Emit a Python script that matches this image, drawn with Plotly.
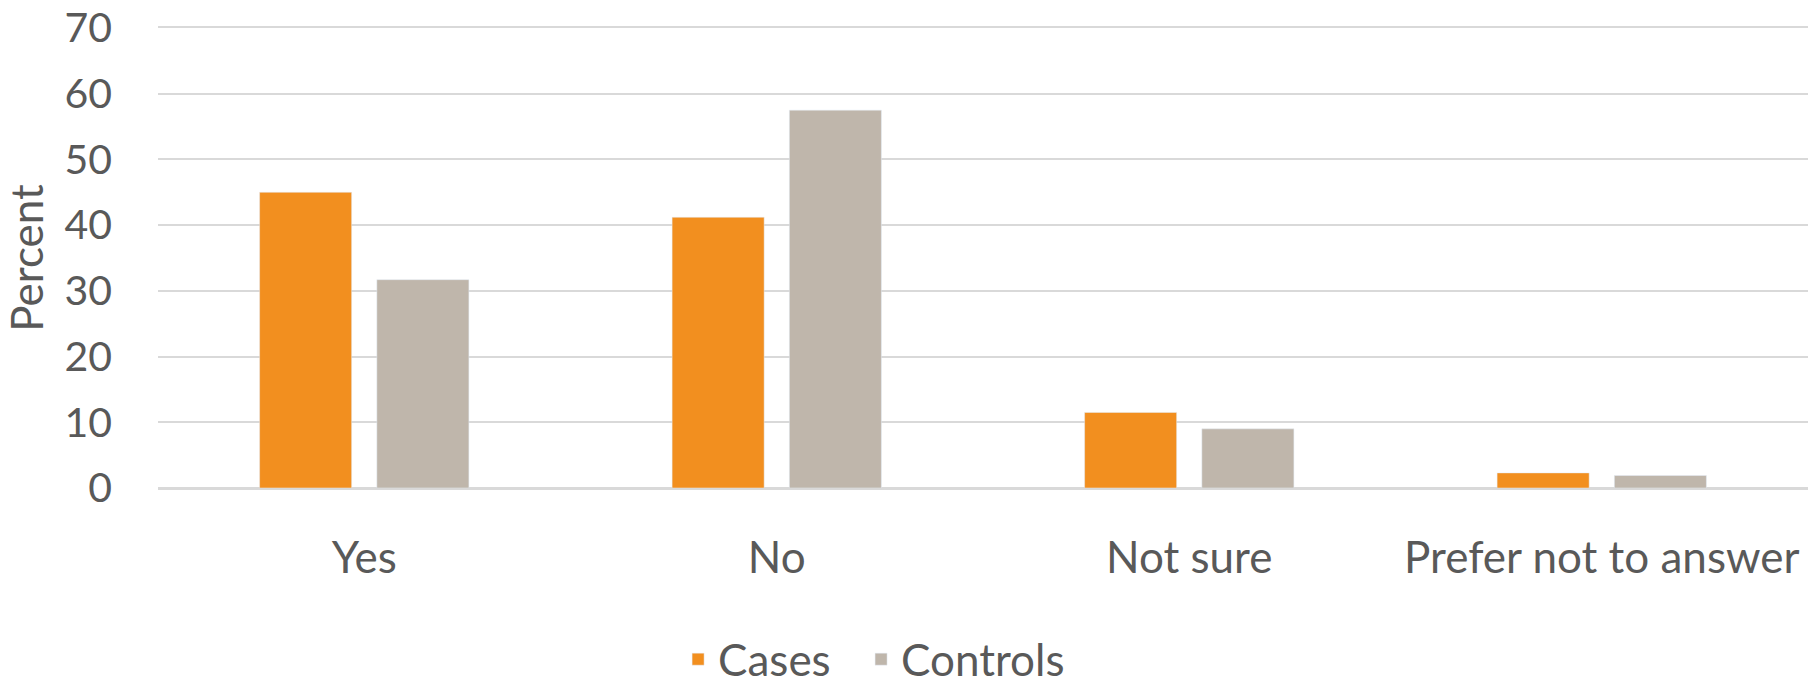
import plotly.graph_objects as go

categories = ["Yes", "No", "Not sure", "Prefer not to answer"]
cases = [45.0, 41.2, 11.5, 2.3]
controls = [31.7, 57.5, 9.0, 1.9]
y_ticks = [0, 10, 20, 30, 40, 50, 60, 70]

ORANGE = "#F28F1F"
GREY = "#BFB6AB"
TEXT = "#595959"
GRID = "#D9D9D9"
FONT = "Lato"

fig = go.Figure()
fig.add_trace(go.Bar(name="Cases", x=categories, y=cases, marker_color=ORANGE, legend="legend"))
fig.add_trace(go.Bar(name="Controls", x=categories, y=controls, marker_color=GREY, legend="legend2"))

legend_common = dict(orientation="h", xanchor="left", y=-0.373, yanchor="middle",
                     font=dict(size=44, color=TEXT), itemwidth=30, bgcolor="rgba(0,0,0,0)")

fig.update_layout(
    width=1818, height=688,
    paper_bgcolor="white", plot_bgcolor="white",
    margin=dict(l=158, r=10, t=28, b=200, autoexpand=False),
    barmode="group", bargap=0.4315, bargroupgap=0.215,
    font=dict(family=FONT, color=TEXT, size=44),
    showlegend=True,
    legend=dict(x=0.3152, **legend_common),
    legend2=dict(x=0.4261, **legend_common),
)
fig.update_xaxes(showgrid=False, showline=True, mirror=True, linecolor=GRID, linewidth=2,
                 ticks="", ticklabelstandoff=30, automargin=False,
                 tickfont=dict(size=44, color=TEXT))
fig.update_yaxes(range=[0, 70], tickvals=y_ticks, showgrid=True, gridcolor=GRID, gridwidth=2,
                 zeroline=True, zerolinecolor=GRID, zerolinewidth=2, automargin=True,
                 ticklabeloverflow="allow",
                 tickfont=dict(size=41, color=TEXT), ticklabelstandoff=45,
                 title=dict(text="Percent", font=dict(size=44, color=TEXT), standoff=20))

fig.write_html("out.html",
               config={"displayModeBar": False},
               post_script="document.body.style.margin='0';document.body.style.overflow='hidden';")
